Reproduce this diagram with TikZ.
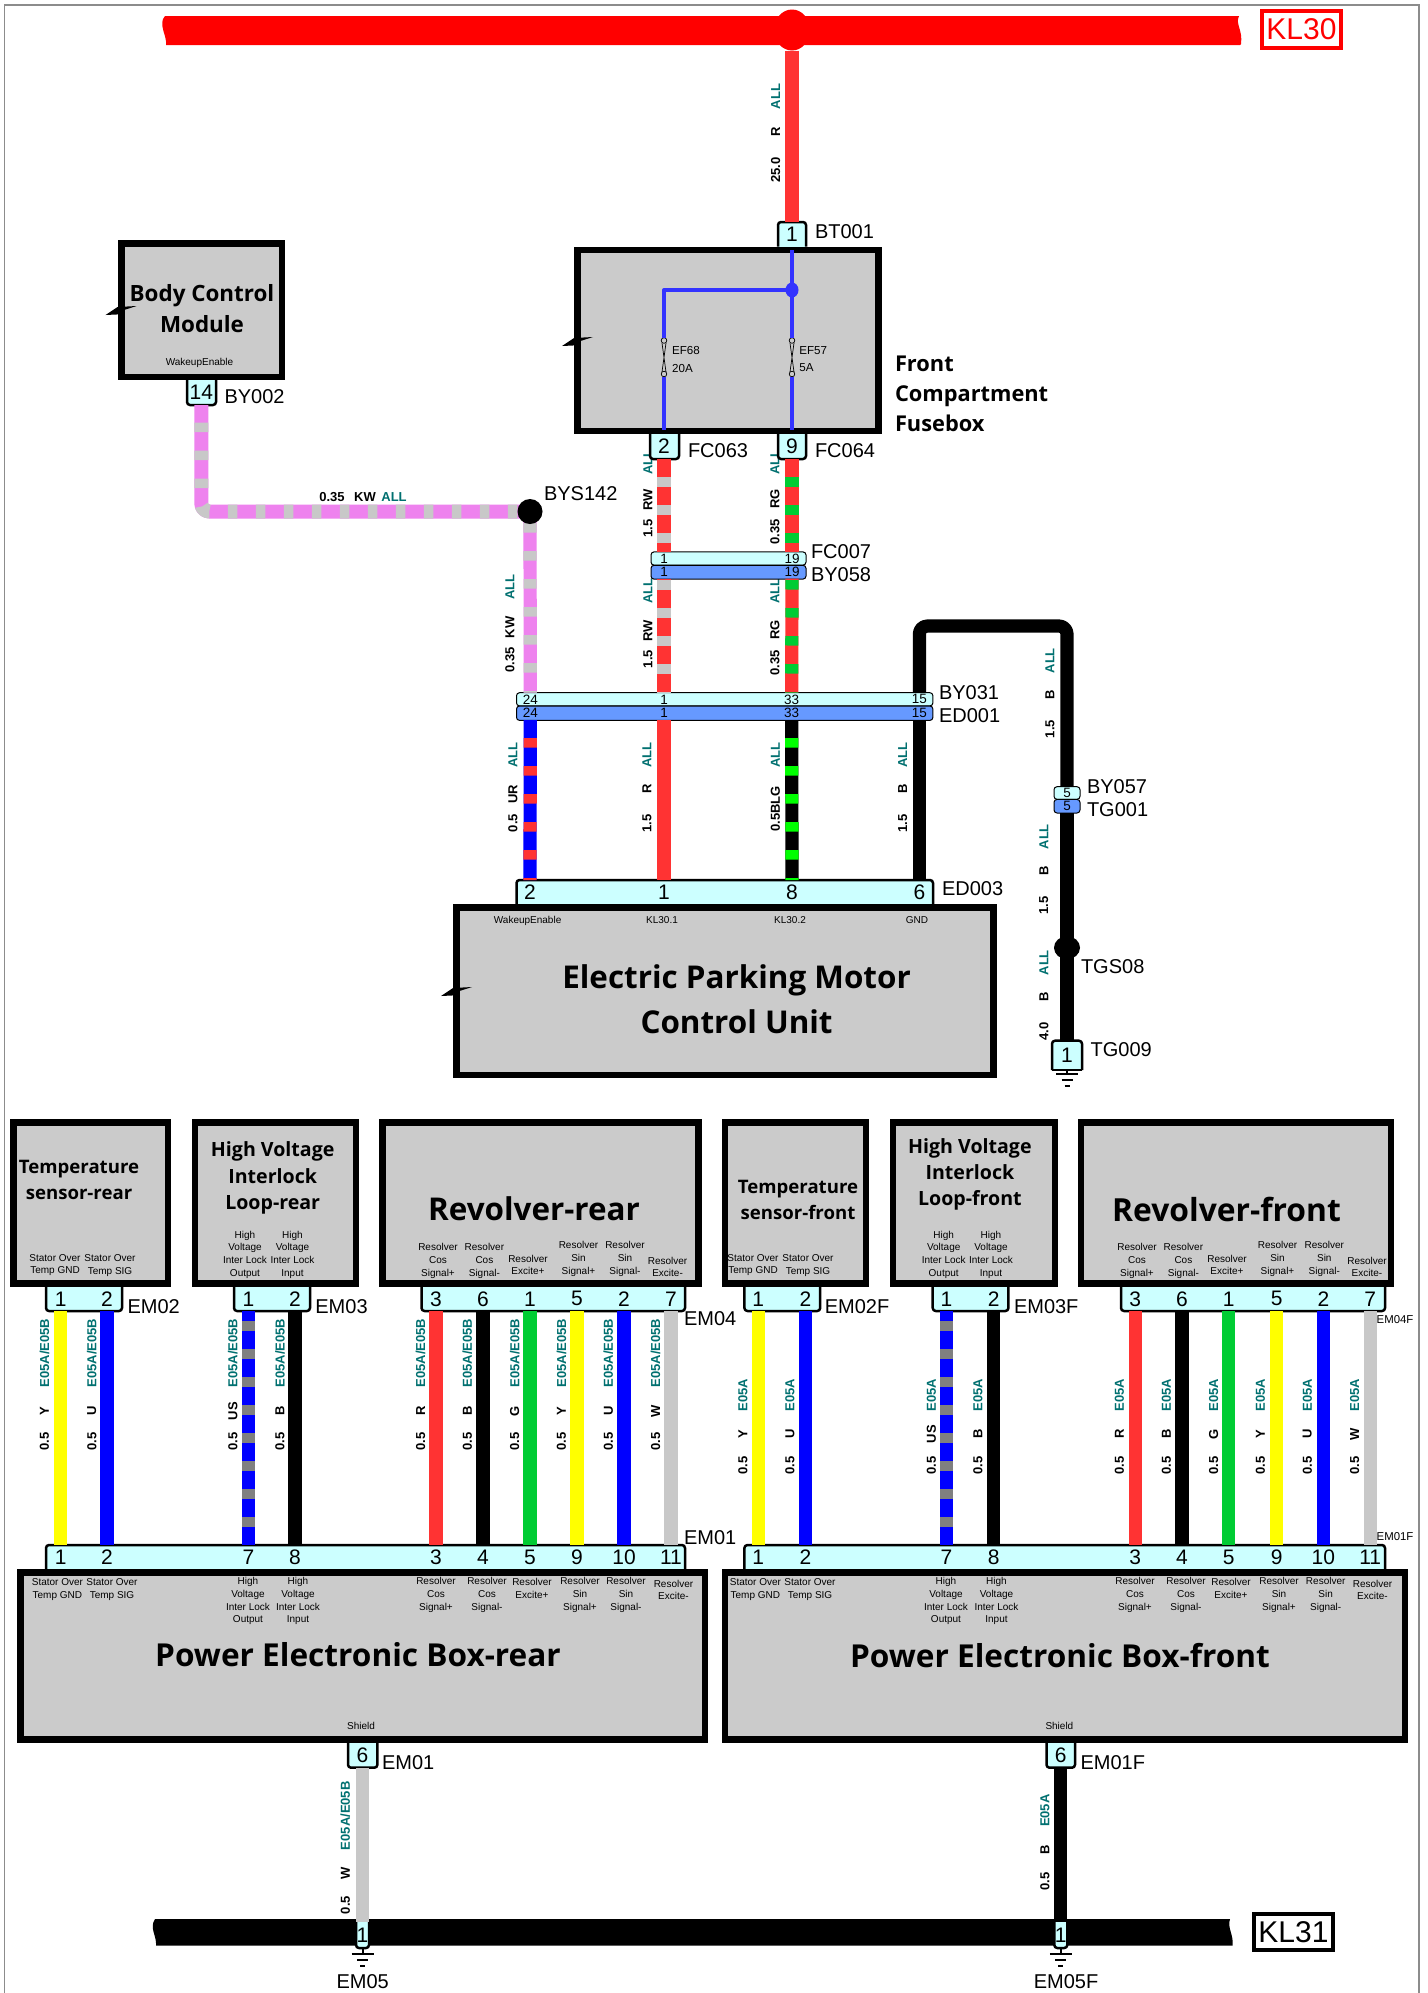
\documentclass[tikz,border=0pt]{standalone}
\usepackage{fontspec}
\usetikzlibrary{shapes.geometric}
\setmainfont{Liberation Sans}
\newfontfamily\ttlfont{Open Sans}
\definecolor{boxgray}{HTML}{CBCBCB}
\definecolor{pincyan}{HTML}{CCFFFF}
\definecolor{pinblue}{HTML}{6699FF}
\definecolor{wred}{HTML}{FF3333}
\definecolor{wgreen}{HTML}{00CC33}
\definecolor{lgreen}{HTML}{00FF00}
\definecolor{wgray}{HTML}{C8C8C8}
\definecolor{dgray}{HTML}{808080}
\definecolor{viol}{HTML}{EE82EE}
\definecolor{lblteal}{HTML}{007070}
\definecolor{busred}{HTML}{FF0000}
\definecolor{wblue}{HTML}{0000FF}
\definecolor{fuseblue}{HTML}{3333FF}
\definecolor{wyellow}{HTML}{FFFF00}
\newcounter{lbl}
\tikzset{
  ecubox/.style={draw=black,fill=boxgray,line width=3.25pt,inner sep=0,outer sep=0},
  stripbox/.style={fill=pincyan,inner sep=0,outer sep=0},
  connline/.style={draw=black,line width=1.25pt,line join=round,rounded corners=1.5pt},
  pinn/.style={inner sep=0,outer sep=0,font=\fontsize{10.5}{12}\selectfont},
  pinsmall/.style={inner sep=0,outer sep=0,font=\fontsize{6.75}{8}\selectfont},
  dual/.style={draw=black,line width=.5pt,inner sep=0,outer sep=0,rounded corners=1.5pt},
  wire/.style={draw=#1,line width=6.6pt,line cap=butt,line join=round,rounded corners=4pt},
  connlbl/.style={inner sep=0,outer sep=0,anchor=west,font=\fontsize{10}{12}\selectfont},
  smalllbl/.style={inner sep=0,outer sep=0,align=center,font=\fontsize{5}{6.35}\selectfont},
  ttl/.style={inner sep=0,outer sep=0,align=center},
  wirelbl/.style={inner sep=0,outer sep=0,rotate=90,font=\fontsize{6.5}{8}\selectfont\bfseries},
  splice/.style={ellipse,fill=#1,inner sep=0,outer sep=0}
}
\newcommand\ecu[5]{\node[ecubox,minimum width={(#4-#2-6.5)*0.5pt},minimum height={(#5-#3-6.5)*0.5pt}] (#1) at ({(#2+#4)/2},{(#3+#5)/2}) {};}
\newcommand\stripD[5]{\node[stripbox,minimum width={(#4-#2)*0.5pt},minimum height={(#5-#3)*0.5pt}] (#1) at ({(#2+#4)/2},{(#3+#5)/2}) {};
  \draw[connline] (#1.north west) -- (#1.south west) -- (#1.south east) -- (#1.north east);}
\newcommand\stripU[5]{\node[stripbox,minimum width={(#4-#2)*0.5pt},minimum height={(#5-#3)*0.5pt}] (#1) at ({(#2+#4)/2},{(#3+#5)/2}) {};
  \draw[connline] (#1.south west) -- (#1.north west) -- (#1.north east) -- (#1.south east);}
\newcommand\pin[6][pinn]{\node[#1,minimum height={(#5-#4)*0.5pt}] (#2) at (#3,{(#4+#5)/2}) {#6};}
\newcommand\cl[4][10]{\stepcounter{lbl}\node[connlbl,font=\fontsize{#1}{12}\selectfont] (c\arabic{lbl}) at (#2,#3) {#4};}
\newcommand\sm[3]{\stepcounter{lbl}\node[smalllbl] (s\arabic{lbl}) at (#1,#2) {#3};}
\newcommand\ttext[5]{\stepcounter{lbl}\node[ttl,font=\ttlfont\bfseries\fontsize{#1}{#2}\selectfont] (t\arabic{lbl}) at (#3,#4) {#5};}
\newcommand\vt[4]{\stepcounter{lbl}\node[wirelbl,text=#1] (v\arabic{lbl}) at (#2,#3) {#4};}
\newcommand\wl[7]{\vt{black}{#1}{#2}{#3}\vt{black}{#1}{#4}{#5}\vt{lblteal}{#1}{#6}{#7}}
\newcommand\bolt[2]{\fill[black] (#1,#2) -- ++(12,-8) -- ++(19,-1) -- ++(-12.6,4) -- ++(-3.4,4.3) -- cycle;}
\newcommand\twotone[4]{\draw[wire=#1] #4; \draw[wire=#2,dash pattern=on 4.75pt off 9.25pt,dash phase=#3pt] #4;}
\newcommand\gnd[2]{\draw[line width=1pt] (#1.south) -- ++(0,#2) ++(-11,0) -- ++(22,0) ++(-16.5,6) -- ++(11,0) ++(-8,5.5) -- ++(5,0);}
\newcommand\fuse[1]{\draw[line width=.35pt,fill=boxgray] (#1,340.5) circle[radius=2.8] (#1,374) circle[radius=2.8];
  \draw[line width=.35pt] (#1-2,343) .. controls (#1,357) .. (#1+2,372) (#1+2,343) .. controls (#1,357) .. (#1-2,372);}
\begin{document}
\begin{tikzpicture}[x=.5pt,y=-.5pt]
\useasboundingbox (0,0) rectangle (1428,1993);
\fill[white] (0,0) rectangle (1428,1993);
\draw[color=black!45,line width=.6pt] (4.5,1993) -- (4.5,5) -- (1419,5) -- (1419,1993);
% buses
\fill[busred] (165,16) -- (1239,16) .. controls (1235,24) and (1243,30) .. (1241,44) -- (1240,45) -- (166,45) .. controls (167,36) and (160,28) .. (163,19) -- cycle;
\node[splice=busred,minimum width=18pt,minimum height=20.5pt] (kl30dot) at (792,30) {};
\node[draw=busred,text=busred,line width=2pt,inner sep=0,outer sep=0,minimum width=39.5pt,minimum height=18.5pt,font=\fontsize{15}{18}\selectfont] (kl30) at (1301.5,29.5) {KL30};
\fill[black] (155,1919) -- (1230,1919) .. controls (1227,1928) and (1234,1935) .. (1232.5,1945.7) -- (156,1945.7) .. controls (157,1936) and (149,1928) .. (155,1919) -- cycle;
\node[draw=black,line width=2pt,inner sep=0,outer sep=0,minimum width=39.7pt,minimum height=18.3pt,font=\fontsize{15}{18}\selectfont] (kl31) at (1293.5,1932) {KL31};
% wire labels
\wl{775.7}{170}{25.0}{132}{R}{96.6}{ALL}
\wl{648}{528.6}{1.5}{500}{RW}{462}{ALL}
\wl{775}{532}{0.35}{499}{RG}{462}{ALL}
\wl{648}{659}{1.5}{631}{RW}{591}{ALL}
\wl{775}{663}{0.35}{630}{RG}{591}{ALL}
\wl{510}{660}{0.35}{627.5}{KW}{586.8}{ALL}
\wl{513}{823}{0.5}{794}{UR}{755}{ALL}
\wl{647}{823.7}{1.5}{788.7}{R}{755}{ALL}
\vt{black}{775.4}{809}{0.5BLG}\vt{lblteal}{775.4}{755}{ALL}
\wl{902.7}{823.7}{1.5}{789}{B}{755}{ALL}
\wl{1050}{729}{1.5}{694.6}{B}{660.7}{ALL}
\wl{1043.8}{905.7}{1.5}{870.7}{B}{836.7}{ALL}
\wl{1043.8}{1031.7}{4.0}{996.7}{B}{962.7}{ALL}
\node[inner sep=0,font=\fontsize{6.5}{8}\selectfont\bfseries] (h1) at (332,497.5) {0.35};
\node[inner sep=0,font=\fontsize{6.5}{8}\selectfont\bfseries] (h2) at (365,497.5) {KW};
\node[inner sep=0,font=\fontsize{6.5}{8}\selectfont\bfseries,text=lblteal] (h3) at (394,497.5) {ALL};
\foreach \x/\c in {44.5/Y,91.8/U,232.8/US,280/B,420.6/R,467.4/B,514.7/G,561.5/Y,608.4/U,655.6/W}
  {\wl{\x}{1441.7}{0.5}{1411}{\c}{1353}{E05A/E05B}}
\foreach \x/\c in {743/Y,790/U,931.3/US,978/B,1119.5/R,1166.4/B,1213.7/G,1260.5/Y,1307.3/U,1354.6/W}
  {\wl{\x}{1465.7}{0.5}{1434}{\c}{1395}{E05A}}
\wl{345.3}{1905}{0.5}{1873}{W}{1815.7}{E05A/E05B}
\wl{1045}{1881.7}{0.5}{1850}{B}{1810.7}{E05A}
% top boxes
\ecu{bcm}{118}{240}{285}{380}
\bolt{105.6}{315}
\ttext{11.2}{15.5}{202}{308.5}{Body Control\\Module}
\sm{199.5}{362.5}{WakeupEnable}
\ecu{fuseb}{574}{246.5}{881.5}{434}
\bolt{562}{346}
\stepcounter{lbl}\node[ttl,anchor=west,align=left,font=\ttlfont\bfseries\fontsize{10.9}{15.1}\selectfont] (t\arabic{lbl}) at (895,393.6) {Front\\Compartment\\Fusebox};
\ecu{epb}{453}{904}{996.5}{1078}
\bolt{441}{996}
\ttext{15.7}{22.3}{736.6}{999.5}{Electric Parking Motor\\Control Unit}
\sm{527.6}{920.7}{WakeupEnable}\sm{662}{920}{KL30.1}\sm{790}{920}{KL30.2}\sm{917}{920}{GND}
% connectors upper
\stripU{bt}{778}{222}{806}{246.5}\pin{btp}{792}{222}{246.5}{1}\cl{815}{232}{BT001}
\stripD{fc63}{650}{434}{679}{459}\pin{fc63p}{664}{434}{459}{2}\cl{688}{451}{FC063}
\stripD{fc64}{778}{434}{806}{459}\pin{fc64p}{792}{434}{459}{9}\cl{815}{451}{FC064}
\stripD{by2}{187}{380}{216}{405}\pin{by2p}{201.3}{380}{405}{14}\cl{224.5}{396.5}{BY002}
\node[dual,fill=pincyan,minimum width=77.5pt,minimum height=6.6pt] (fc7) at (728.5,558.5) {};
\node[dual,fill=pinblue,minimum width=77.5pt,minimum height=6.9pt] (by58) at (728.5,572.2) {};
\pin[pinsmall]{fc7a}{664}{552}{565}{1}\pin[pinsmall]{fc7b}{792}{552}{565}{19}
\pin[pinsmall]{by58a}{664}{565}{578.6}{1}\pin[pinsmall]{by58b}{792}{565}{578.6}{19}
\cl{811}{552}{FC007}\cl{811}{575}{BY058}
\node[dual,fill=pincyan,minimum width=208.2pt,minimum height=6.6pt] (by31) at (724.7,699.3) {};
\node[dual,fill=pinblue,minimum width=208.2pt,minimum height=7.2pt] (ed1) at (724.7,713.2) {};
\foreach \n/\x in {24/530.3,1/664,33/791.7,15/919.4}{
  \pin[pinsmall]{bya\n}{\x}{692.7}{706}{\n}\pin[pinsmall]{edb\n}{\x}{706}{720}{\n}}
\cl{939}{693}{BY031}\cl{939}{716}{ED001}
\node[dual,fill=pincyan,minimum width=13pt,minimum height=6.3pt] (by57) at (1067,793) {};
\node[dual,fill=pinblue,minimum width=13pt,minimum height=6.8pt] (tg1) at (1067,806.2) {};
\pin[pinsmall]{by57p}{1067}{786.7}{799.3}{5}\pin[pinsmall]{tg1p}{1067}{799.3}{813}{5}
\cl{1087}{787}{BY057}\cl{1087}{810}{TG001}
\stripU{ed3}{516.5}{880}{933}{904}
\foreach \x/\n in {530/2,664/1,792/8,919.4/6}{\pin{ed3p\n}{\x}{880}{904}{\n}}
\cl{942}{889}{ED003}
\stripU{tg9}{1052}{1040.7}{1082}{1070}
\draw[connline] (tg9.south west) -- (tg9.south east);
\pin{tg9p}{1067}{1040.7}{1070}{1}\cl{1090.7}{1050}{TG009}
\gnd{tg9}{4}
% fuse box internals
\coordinate (fj) at (792,290);
\fuse{664}\fuse{792}
\coordinate (f1t) at (664,338);\coordinate (f1b) at (664,377);
\coordinate (f2t) at (792,338);\coordinate (f2b) at (792,377);
\coordinate (fbl) at (664,430);\coordinate (fbr) at (792,430);\coordinate (ftop) at (792,250);
\draw[draw=fuseblue,line width=1.7pt] (ftop) -- (f2t) (f2b) -- (fbr) (f1b) -- (fbl);
\draw[draw=fuseblue,line width=1.7pt,line join=round] (fj) -| (f1t);
\node[splice=fuseblue,minimum width=6.5pt,minimum height=7.5pt] (fjd) at (fj) {};
\foreach \x/\y/\t in {671.7/350.7/EF68,671.7/368/20A,799/350.7/EF57,799/368/5A}{
  \stepcounter{lbl}\node[inner sep=0,anchor=west,font=\fontsize{5.8}{7}\selectfont] (f\arabic{lbl}) at (\x,\y) {\t};}
% upper wires
\coordinate (bysc) at (530,511.5);
\coordinate (tgsc) at (1067,947.7);
\coordinate (tcor) at (1000,626);
\draw[wire=wred] (kl30dot.south) -- (btp.north);
\begin{scope}[line width=7pt]
\draw[wire=viol,line width=7pt] (by2p.south) |- (bysc);
\draw[wire=wgray,line width=7pt,dash pattern=on 4.75pt off 9.25pt,dash phase=5.25pt] (by2p.south) |- (bysc);
\end{scope}
\twotone{viol}{wgray}{8.25}{(bysc) -- (bya24.north)}
\twotone{wred}{wgray}{5}{(fc63p.south) -- (fc7a.north)}
\twotone{wred}{wgreen}{5}{(fc64p.south) -- (fc7b.north)}
\twotone{wred}{wgray}{13.3}{(by58a.south) -- (bya1.north)}
\twotone{wred}{wgreen}{13.3}{(by58b.south) -- (bya33.north)}
\twotone{wblue}{wred}{5}{(edb24.south) -- (ed3p2.north)}
\draw[wire=wred] (edb1.south) -- (ed3p1.north);
\twotone{black}{lgreen}{5}{(edb33.south) -- (ed3p8.north)}
\draw[wire=black] (edb15.south) -- (ed3p6.north);
\draw[wire=black] (bya15.north) |- (tcor) -| (by57p.north);
\draw[wire=black] (tg1p.south) -- (tgsc) -- (tg9p.north);
\node[splice=black,minimum width=12.5pt,minimum height=12.5pt] (bys) at (bysc) {};
\cl{544}{494}{BYS142}
\node[splice=black,minimum width=13pt,minimum height=11.5pt] (tgs) at (tgsc) {};
\cl{1081}{967}{TGS08}
% lower boxes
\ecu{tsr}{10}{1119.3}{171}{1286.7}
\ttext{9.3}{13}{79}{1179.7}{Temperature\\sensor-rear}
\sm{55}{1265}{Stator Over\\Temp GND}\sm{110}{1265.5}{Stator Over\\Temp SIG}
\ecu{hvr}{191.5}{1119.3}{359}{1286.7}
\ttext{9.8}{13.3}{272.7}{1178}{High Voltage\\Interlock\\Loop-rear}
\sm{245}{1254.7}{High\\Voltage\\Inter Lock\\Output}\sm{292.5}{1254.7}{High\\Voltage\\Inter Lock\\Input}
\ecu{rvr}{379}{1119.3}{701.5}{1286.7}
\ttext{15.7}{17}{534}{1209}{Revolver-rear}
\newcommand\reslabs[6]{\sm{#1}{1261}{Resolver\\Cos\\Signal+}\sm{#2}{1261}{Resolver\\Cos\\Signal-}\sm{#3}{1265}{Resolver\\Excite+}\sm{#4}{1259}{Resolver\\Sin\\Signal+}\sm{#5}{1259}{Resolver\\Sin\\Signal-}\sm{#6}{1267}{Resolver\\Excite-}}
\reslabs{438}{484.4}{528}{578.5}{625}{667.6}
\ecu{tsf}{721.5}{1119.3}{869.3}{1286.7}
\ttext{9.3}{13.3}{798}{1200}{Temperature\\sensor-front}
\sm{753}{1265}{Stator Over\\Temp GND}\sm{808}{1265.5}{Stator Over\\Temp SIG}
\ecu{hvf}{889.5}{1119.3}{1058}{1286.7}
\ttext{9.8}{13}{969.9}{1174}{High Voltage\\Interlock\\Loop-front}
\sm{943.7}{1254.7}{High\\Voltage\\Inter Lock\\Output}\sm{991}{1254.7}{High\\Voltage\\Inter Lock\\Input}
\ecu{rvf}{1077.8}{1119.3}{1394}{1286.7}
\ttext{15.9}{17}{1226.5}{1209}{Revolver-front}
\reslabs{1137}{1183.4}{1227}{1277.5}{1324.3}{1367}
\ecu{pbr}{17}{1569}{708}{1742.7}
\ttext{15.8}{17}{358}{1655}{Power Electronic Box-rear}
\newcommand\pwrlabs[1]{\sm{#1+57.4}{1589.5}{Stator Over\\Temp GND}\sm{#1+112}{1589.5}{Stator Over\\Temp SIG}}
\pwrlabs{0}
\sm{248}{1601.3}{High\\Voltage\\Inter Lock\\Output}\sm{298}{1601.3}{High\\Voltage\\Inter Lock\\Input}
\sm{436}{1595}{Resolver\\Cos\\Signal+}\sm{487}{1595}{Resolver\\Cos\\Signal-}\sm{532}{1588.7}{Resolver\\Excite+}\sm{580}{1595}{Resolver\\Sin\\Signal+}\sm{626}{1595}{Resolver\\Sin\\Signal-}\sm{673.5}{1590}{Resolver\\Excite-}
\sm{361}{1726.3}{Shield}
\ecu{pbf}{721.5}{1569}{1408}{1742.7}
\ttext{15.8}{17}{1060}{1655.7}{Power Electronic Box-front}
\pwrlabs{698}
\sm{946}{1601.3}{High\\Voltage\\Inter Lock\\Output}\sm{996.5}{1601.3}{High\\Voltage\\Inter Lock\\Input}
\sm{1135}{1595}{Resolver\\Cos\\Signal+}\sm{1186}{1595}{Resolver\\Cos\\Signal-}\sm{1231}{1588.7}{Resolver\\Excite+}\sm{1279}{1595}{Resolver\\Sin\\Signal+}\sm{1325.7}{1595}{Resolver\\Sin\\Signal-}\sm{1372.5}{1590}{Resolver\\Excite-}
\sm{1059.4}{1726.3}{Shield}
% lower connectors
\newcommand\upin[3]{\pin{#1}{#2}{1286.7}{1311}{#3}}
\newcommand\lpin[3]{\pin{#1}{#2}{1545}{1569}{#3}}
\stripD{em02}{46}{1286.7}{122}{1311}\upin{a1}{60.6}{1}\upin{a2}{107}{2}\cl{127.6}{1306.7}{EM02}
\stripD{em03}{234}{1286.7}{310}{1311}\upin{b1}{248.5}{1}\upin{b2}{295}{2}\cl{315.4}{1306.7}{EM03}
\stripD{em04}{421.5}{1286.7}{685}{1311}
\foreach \x/\n in {436/3,483/6,530/1,577/5,624/2,671/7}{\upin{c\n}{\x}{\n}}
\cl{684}{1318.3}{EM04}
\stripU{em01l}{46}{1545}{685}{1569}
\foreach \x/\n in {60.6/1,107/2,248.5/7,295/8,436/3,483/4,530/5,577/9,624/10,671/11}{\lpin{d\n}{\x}{\n}}
\cl{684}{1538}{EM01}
\stripD{em02f}{744.4}{1286.7}{820.2}{1311}\upin{e1}{758.2}{1}\upin{e2}{805.5}{2}\cl{824.8}{1306.7}{EM02F}
\stripD{em03f}{932.7}{1286.7}{1008.4}{1311}\upin{g1}{946.5}{1}\upin{g2}{993.7}{2}\cl{1014}{1306.7}{EM03F}
\stripD{em04f}{1121}{1286.7}{1385}{1311}
\foreach \x/\n in {1135.2/3,1182/6,1228.8/1,1276.6/5,1323.4/2,1370.2/7}{\upin{h\n}{\x}{\n}}
\cl[5.7]{1376.7}{1319.3}{EM04F}
\stripU{em01fl}{744.4}{1545}{1385}{1569}
\foreach \x/\n in {758.2/1,805.5/2,946.5/7,993.7/8,1135.2/3,1182/4,1228.8/5,1276.6/9,1323.4/10,1370.2/11}{\lpin{k\n}{\x}{\n}}
\cl[5.7]{1376.7}{1536.7}{EM01F}
\stripD{em1}{348}{1742.7}{377.4}{1767.7}\pin{em1p}{362.5}{1742.7}{1767.7}{6}\cl{382}{1762.7}{EM01}
\stripD{em1f}{1046.5}{1742.7}{1075}{1767.7}\pin{em1fp}{1060.8}{1742.7}{1767.7}{6}\cl{1080.5}{1762.7}{EM01F}
\stripD{em5}{356}{1921.7}{369}{1948}\pin{em5p}{362.5}{1921.7}{1948}{1}
\stripD{em5f}{1054.3}{1921.7}{1067.3}{1948}\pin{em5fp}{1060.8}{1921.7}{1948}{1}
\gnd{em5}{6}\gnd{em5f}{6}
\node[inner sep=0,font=\fontsize{10}{12}\selectfont] (em5l) at (362.7,1981.7) {EM05};
\node[inner sep=0,font=\fontsize{10}{12}\selectfont] (em5fl) at (1066,1981.7) {EM05F};
% lower wires
\foreach \a/\b/\c in {a1/d1/wyellow,a2/d2/wblue,b2/d8/black,c3/d3/wred,c6/d4/black,c1/d5/wgreen,c5/d9/wyellow,c2/d10/wblue,c7/d11/wgray,
  e1/k1/wyellow,e2/k2/wblue,g2/k8/black,h3/k3/wred,h6/k4/black,h1/k5/wgreen,h5/k9/wyellow,h2/k10/wblue,h7/k11/wgray,em1p/em5p/wgray,em1fp/em5fp/black}
  {\draw[wire=\c] (\a.south) -- (\b.north);}
\twotone{wblue}{dgray}{9}{(b1.south) -- (d7.north)}
\twotone{wblue}{dgray}{9}{(g1.south) -- (k7.north)}
\end{tikzpicture}
\end{document}
